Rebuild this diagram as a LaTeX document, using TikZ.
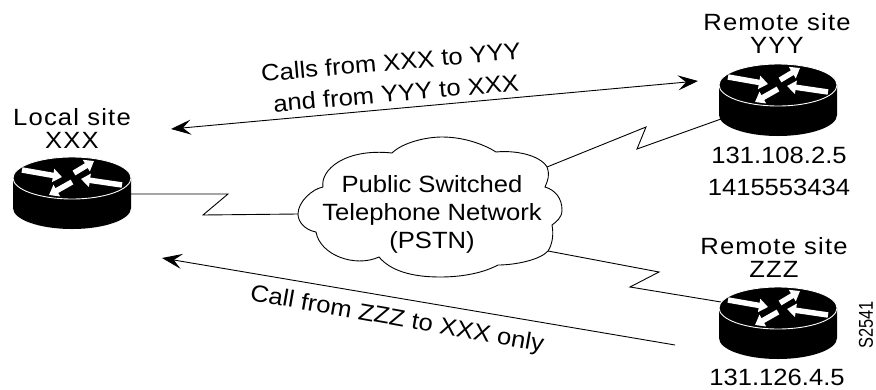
\documentclass[tikz,border=0pt]{standalone}
\usepackage{fontspec}
\setmainfont{Liberation Sans}
\newfontfamily\widefont[FakeStretch=1.09]{Liberation Sans}
\newfontfamily\spacedfont[FakeStretch=1.09,LetterSpace=5]{Liberation Sans}
\newfontfamily\narrowfont[FakeStretch=0.82]{Liberation Sans}
\usetikzlibrary{arrows.meta,calc}
\tikzset{
  x=1pt,y=-1pt,
  wire/.style={draw=black,line width=0.9pt,line join=miter},
  headtip/.tip={Stealth[length=20pt,width=15pt,inset=8pt]},
  callarrow/.style={draw=black,line width=0.9pt,{headtip}-{headtip}},
  onearrow/.style={draw=black,line width=0.9pt,{headtip}-},
  lbl/.style={font=\widefont\fontsize{23.5}{28}\selectfont,inner sep=0pt,align=center,text=black},
  sitelbl/.style={font=\spacedfont\fontsize{23.5}{23}\selectfont,inner sep=0pt,align=center,text=black},
  wedge/.style={draw=white,line width=5.5pt,-{Triangle[length=9pt,width=13pt]}},
  pics/router/.style={code={
    \fill[black] (-59,0) -- (-59,30) arc[start angle=180,end angle=0,x radius=59,y radius=21] -- (59,0) -- cycle;
    \fill[black,draw=white,line width=0.9pt] (0,0) ellipse[x radius=59,y radius=21];
    \draw[wedge] (-50,-8) -- (-10,-1);
    \draw[wedge] (2,-5) -- (22,-17);
    \draw[wedge] (50,7) -- (9,1);
    \draw[wedge] (0,4) -- (-23,17);
  }}
}
\begin{document}
\begin{tikzpicture}
\useasboundingbox (0,0) rectangle (876,389);
% sites
\coordinate (xxx) at (72,178);
\coordinate (yyy) at (778,85);
\coordinate (zzz) at (778,308);
% wires below the routers
\coordinate (c1) at (298,214);
\coordinate (c2) at (547,167);
\coordinate (c3) at (548,251);
\path[wire] (130,194) -- (228,194) -- (203,215) -- (c1);
\path[wire] (c2) -- (646,127) -- (637,149) -- (721,119);
\path[wire] (c3) -- (659,272) -- (630,287) -- (721,302);
% cloud
\path[draw=black,fill=white,line width=0.9pt] (298,214)
  .. controls (298,202) and (312,189) .. (323,187)
  .. controls (320,170) and (345,148) .. (392,153)
  .. controls (402,143) and (425,137) .. (442,137)
  .. controls (465,137) and (485,145) .. (496,152)
  .. controls (515,150) and (540,155) .. (547,167)
  .. controls (550,175) and (548,180) .. (545,187)
  .. controls (555,190) and (562,198) .. (562,210)
  .. controls (562,218) and (556,222) .. (552,225)
  .. controls (554,235) and (552,245) .. (548,251)
  .. controls (540,260) and (515,265) .. (498,265)
  .. controls (485,272) and (465,277) .. (440,277)
  .. controls (410,277) and (390,270) .. (379,257)
  .. controls (355,268) and (320,255) .. (316,232)
  .. controls (305,230) and (298,222) .. (298,214) -- cycle;
\node[lbl] (pstn) at (432,214) {Public Switched\\Telephone Network\\(PSTN)};
% routers
\pic at (xxx) {router};
\pic at (yyy) {router};
\pic at (zzz) {router};
% labels
\node[sitelbl] (lx) at (72,128) {Local site\\XXX};
\node[sitelbl] (ly) at (777,33) {Remote site\\YYY};
\node[sitelbl] (lz) at (774,257) {Remote site\\ZZZ};
\node[lbl] (ipy) at (779,155) {131.108.2.5};
\node[lbl] (nmy) at (779,187) {1415553434};
\node[lbl] (ipz) at (777,377) {131.126.4.5};
\node[inner sep=0pt,font=\narrowfont\fontsize{20}{20}\selectfont,rotate=90] (sn) at (866,325) {S2541};
% arrows
\coordinate (a1) at (171,129);
\coordinate (a2) at (698,81);
\coordinate (b1) at (162,258);
\coordinate (b2) at (675,345);
\path[callarrow] (a1) -- (a2);
\path[onearrow] (b1) -- (b2);
\node[lbl,rotate=5] (t1) at (391,62) {Calls from XXX to YYY};
\node[lbl,rotate=5] (t2) at (396,93) {and from YYY to XXX};
\node[lbl,rotate=-10] (t3) at (397,320) {Call from ZZZ to XXX only};
\end{tikzpicture}
\end{document}
